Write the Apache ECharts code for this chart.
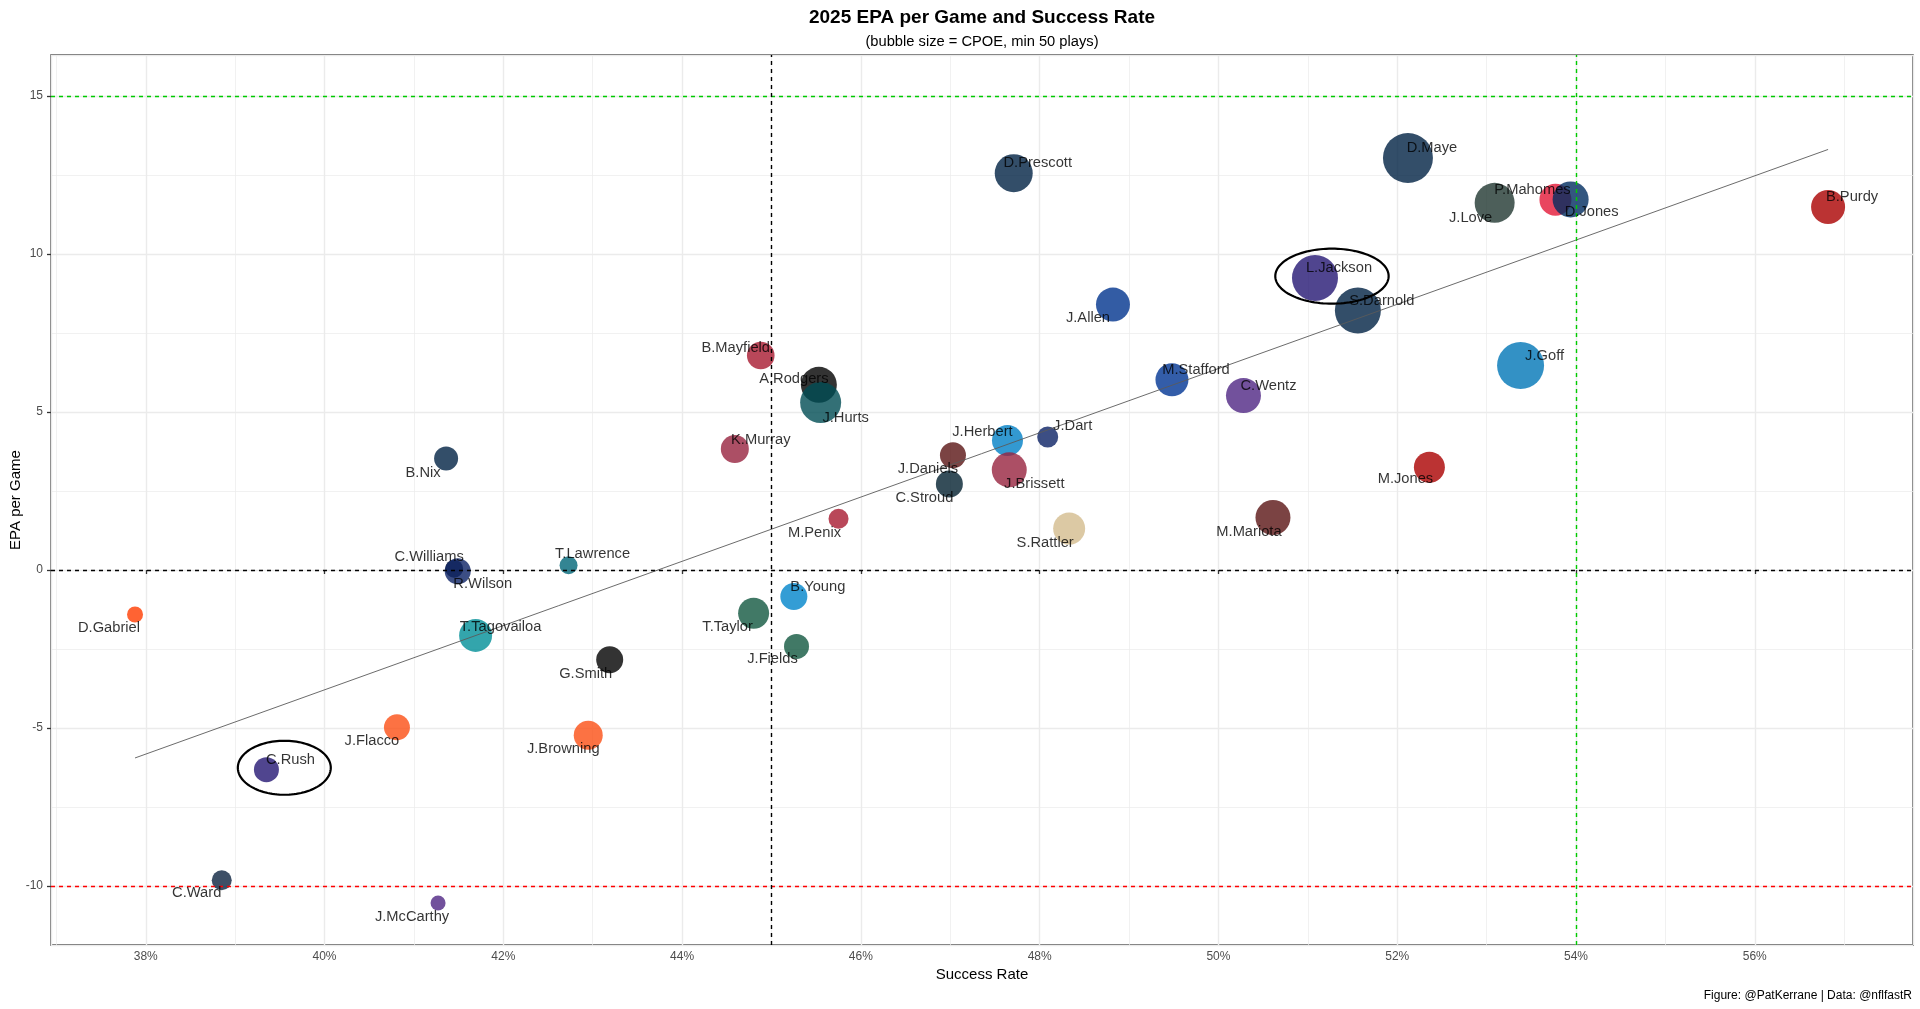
<!DOCTYPE html>
<html>
<head>
<meta charset="utf-8">
<script src="https://cdn.jsdelivr.net/npm/echarts@6/dist/echarts.min.js"></script>
<style>
html,body{margin:0;padding:0;background:#ffffff;}
#chart{width:1920px;height:1009px;}
</style>
</head>
<body>
<div id="chart"></div>
<script>
// ---------------- DATA ----------------
const players = [
  'D.Maye','D.Prescott','J.Love','P.Mahomes','D.Jones','B.Purdy','L.Jackson','S.Darnold',
  'J.Allen','J.Goff','B.Mayfield','A.Rodgers','J.Hurts','M.Stafford','C.Wentz','K.Murray',
  'J.Herbert','J.Dart','J.Brissett','J.Daniels','C.Stroud','M.Jones','S.Rattler','M.Mariota',
  'M.Penix','B.Nix','C.Williams','R.Wilson','T.Lawrence','D.Gabriel','T.Tagovailoa','T.Taylor',
  'B.Young','J.Fields','G.Smith','J.Flacco','J.Browning','C.Rush','C.Ward','J.McCarthy'
];
const teams = [
  'NE','DAL','GB','KC','IND','SF','BAL','SEA',
  'BUF','DET','TB','PIT','PHI','LA','MIN','ARI',
  'LAC','NYG','ARI','WAS','HOU','SF','NO','WAS',
  'ATL','DEN','CHI','NYG','JAX','CLE','MIA','NYJ',
  'CAR','NYJ','LV','CIN','CIN','BAL','TEN','MIN'
];
// success rate (%)
const successRate = [
  52.12, 47.71, 53.09, 53.77, 53.94, 56.82, 51.08, 51.56,
  48.82, 53.38, 44.88, 45.53, 45.55, 49.48, 50.28, 44.59,
  47.64, 48.09, 47.66, 47.03, 46.99, 52.36, 48.33, 50.61,
  45.75, 41.36, 41.45, 41.49, 42.73, 37.88, 41.69, 44.80,
  45.25, 45.28, 43.19, 40.81, 42.95, 39.35, 38.85, 41.27
];
// EPA per game
const epaPerGame = [
  13.04, 12.56, 11.62, 11.72, 11.73, 11.49, 9.24, 8.21,
  8.40, 6.47, 6.79, 5.86, 5.30, 6.02, 5.52, 3.83,
  4.10, 4.21, 3.17, 3.63, 2.72, 3.25, 1.31, 1.66,
  1.62, 3.53, 0.04, -0.04, 0.15, -1.41, -2.07, -1.37,
  -0.84, -2.42, -2.84, -4.98, -5.23, -6.32, -9.82, -10.54
];
// CPOE (bubble size), estimated from bubble diameters
const cpoe = [
  10, 4, 5, 1, 3, 2, 8, 8,
  2, 8.5, -1.2, 3, 5.5, 1.5, 2.5, -1,
  0.5, -4.5, 2.5, -2, -1.5, 0.5, 1, 2.5,
  -5, -3, -6, -2, -6, -7, 1.5, 0.5,
  -1.5, -2.5, -1.5, -2, -0.5, -2.5, -5, -7.5
];
// regression (lm) line end points
const trendLine = [[37.88, -5.95], [56.82, 13.31]];
// reference lines
const refLinesY = [0, 15, -10];
const refLinesX = [45, 54];
// highlighted players (ellipse centre and half-axes, data units)
const highlightCenters = [[51.27, 9.30], [39.55, -6.26]];
const highlightRadii = [[0.634, 0.87], [0.52, 0.855]];

// ---------------- STYLE ----------------
const FONT = "'Liberation Sans', Arial, Helvetica, sans-serif";
const teamColors = {
  NE:'#002244', DAL:'#002244', GB:'#203731', KC:'#E31837', IND:'#002C5F', SF:'#AA0000',
  BAL:'#241773', SEA:'#002244', BUF:'#00338D', DET:'#0076B6', TB:'#A71930', PIT:'#000000',
  PHI:'#004C54', LA:'#003594', MIN:'#4F2683', ARI:'#97233F', LAC:'#0080C6', NYG:'#0B2265',
  WAS:'#5A1414', HOU:'#03202F', NO:'#D3BC8D', ATL:'#A71930', DEN:'#002244', CHI:'#0B162A',
  JAX:'#006778', CLE:'#FF3C00', MIA:'#008E97', NYJ:'#125740', CAR:'#0085CA', LV:'#000000',
  CIN:'#FB4F14', TEN:'#0C2340'
};
const refYColors = ['#000000', '#00cc00', '#ff0000'];
const refXColors = ['#000000', '#00cc00'];
const OFF = { ur:[24,-10], ul:[-24,-10], lr:[24,14], ll:[-24,14] };
const labelOffsets = {
  'D.Maye':OFF.ur, 'D.Prescott':OFF.ur, 'J.Love':[-24,15], 'P.Mahomes':[-23,-10], 'D.Jones':[21,13],
  'B.Purdy':OFF.ur, 'L.Jackson':OFF.ur, 'S.Darnold':OFF.ur, 'J.Allen':[-25,13], 'J.Goff':OFF.ur,
  'B.Mayfield':[-25,-8], 'A.Rodgers':[-25,-6], 'J.Hurts':[25,15], 'M.Stafford':OFF.ur, 'C.Wentz':[25,-10],
  'K.Murray':[26,-9], 'J.Herbert':[-25,-9], 'J.Dart':[25,-11], 'J.Brissett':[25,14], 'J.Daniels':[-25,14],
  'C.Stroud':[-25,14], 'M.Jones':[-24,12], 'S.Rattler':OFF.ll, 'M.Mariota':OFF.ll, 'M.Penix':OFF.ll,
  'B.Nix':[-23,14], 'C.Williams':[-25,-12], 'R.Wilson':[25,13], 'T.Lawrence':[24,-11], 'D.Gabriel':[-26,13],
  'T.Tagovailoa':[25,-8], 'T.Taylor':[-26,14], 'B.Young':OFF.ur, 'J.Fields':[-24,13], 'G.Smith':OFF.ll,
  'J.Flacco':[-25,14], 'J.Browning':[-25,14], 'C.Rush':[24,-10], 'C.Ward':[-25,13], 'J.McCarthy':[-26,14]
};
function bubbleSize(v) { return 30 + 2 * v; }

// ---------------- CHART ----------------
const chart = echarts.init(document.getElementById('chart'), null, { renderer: 'canvas' });

const pointData = players.map((n, i) => ({
  name: n,
  value: [successRate[i], epaPerGame[i], cpoe[i]],
  itemStyle: { color: teamColors[teams[i]] }
}));
const labelData = players.map((n, i) => ({
  name: n,
  value: [successRate[i], epaPerGame[i]],
  label: { offset: labelOffsets[n] || OFF.ur }
}));

const markLineData = refLinesY.map((v, i) => ({ yAxis: v, lineStyle: { color: refYColors[i] } }))
  .concat(refLinesX.map((v, i) => ({ xAxis: v, lineStyle: { color: refXColors[i] } })));

const option = {
  animation: false,
  backgroundColor: '#ffffff',
  textStyle: { fontFamily: FONT },
  grid: {
    left: 51, right: 7, top: 55, bottom: 64,
    show: true, borderColor: '#333333', borderWidth: 1.3, backgroundColor: '#ffffff',
    containLabel: false, outerBoundsMode: 'none'
  },
  xAxis: {
    type: 'value', min: 36.94, max: 57.77, splitNumber: 10,
    name: 'Success Rate', nameLocation: 'middle', nameGap: 22, nameMoveOverlap: false,
    nameTextStyle: { color: '#000000', fontSize: 15, fontFamily: FONT },
    axisLine: { show: false },
    axisTick: { show: true, length: 4, lineStyle: { color: '#333333', width: 1.3 } },
    axisLabel: {
      formatter: v => v + '%', showMinLabel: false, showMaxLabel: false,
      color: '#4d4d4d', fontSize: 12, margin: 6, fontFamily: FONT
    },
    splitLine: { show: true, lineStyle: { color: '#ebebeb', width: 1.4 } },
    minorTick: { show: false, splitNumber: 2 },
    minorSplitLine: { show: true, lineStyle: { color: '#ebebeb', width: 0.7 } }
  },
  yAxis: {
    type: 'value', min: -11.87, max: 16.30, splitNumber: 6,
    name: 'EPA per Game', nameLocation: 'middle', nameGap: 28, nameRotate: 90, nameMoveOverlap: false,
    nameTextStyle: { color: '#000000', fontSize: 15, fontFamily: FONT },
    axisLine: { show: false },
    axisTick: { show: true, length: 4, lineStyle: { color: '#333333', width: 1.3 } },
    axisLabel: {
      showMinLabel: false, showMaxLabel: false,
      color: '#4d4d4d', fontSize: 12, margin: 8, fontFamily: FONT
    },
    splitLine: { show: true, lineStyle: { color: '#ebebeb', width: 1.4 } },
    minorTick: { show: false, splitNumber: 2 },
    minorSplitLine: { show: true, lineStyle: { color: '#ebebeb', width: 0.7 } }
  },
  graphic: [
    { type: 'text', x: 982, y: 18, z: 100,
      style: { text: '2025 EPA per Game and Success Rate', font: 'bold 19px ' + FONT,
               fill: '#000000', align: 'center', verticalAlign: 'middle' } },
    { type: 'text', x: 982, y: 42, z: 100,
      style: { text: '(bubble size = CPOE, min 50 plays)', font: '14.7px ' + FONT,
               fill: '#000000', align: 'center', verticalAlign: 'middle' } },
    { type: 'text', x: 1912, y: 996, z: 100,
      style: { text: 'Figure: @PatKerrane | Data: @nflfastR', font: '12px ' + FONT,
               fill: '#000000', align: 'right', verticalAlign: 'middle' } }
  ],
  series: [
    {
      name: 'reference', type: 'line', data: [], z: 1, silent: true,
      markLine: {
        silent: true, symbol: ['none', 'none'], animation: false,
        label: { show: false },
        lineStyle: { type: [4, 4], width: 1.4 },
        data: markLineData
      }
    },
    {
      name: 'QBs', type: 'scatter', z: 2, data: pointData,
      symbol: 'circle',
      symbolSize: v => bubbleSize(v[2]),
      itemStyle: { opacity: 0.8 },
      emphasis: { disabled: true }
    },
    {
      name: 'trend', type: 'line', z: 3, data: trendLine, showSymbol: false, symbol: 'none',
      lineStyle: { color: '#5a5a5a', width: 0.9 }, silent: true
    },
    {
      name: 'highlight', type: 'custom', z: 4, silent: true,
      data: highlightCenters.map((c, i) => [c[0], c[1], highlightRadii[i][0], highlightRadii[i][1]]),
      renderItem: function (params, api) {
        const c = api.coord([api.value(0), api.value(1)]);
        const s = api.size([api.value(2), api.value(3)]);
        const pts = [];
        for (let k = 0; k < 120; k++) {
          const t = k / 120 * Math.PI * 2;
          pts.push([c[0] + s[0] * Math.cos(t), c[1] + s[1] * Math.sin(t)]);
        }
        return { type: 'polygon', shape: { points: pts },
                 style: { fill: 'none', stroke: '#000000', lineWidth: 2.2 } };
      }
    },
    {
      name: 'labels', type: 'scatter', z: 6, data: labelData, silent: true,
      symbolSize: 1, itemStyle: { color: 'rgba(0,0,0,0)' },
      label: {
        show: true, position: 'inside', formatter: '{b}',
        color: '#000000', fontSize: 14.7, fontFamily: FONT,
        align: 'center', verticalAlign: 'middle'
      },
      emphasis: { disabled: true }
    }
  ]
};
chart.setOption(option);
</script>
</body>
</html>
